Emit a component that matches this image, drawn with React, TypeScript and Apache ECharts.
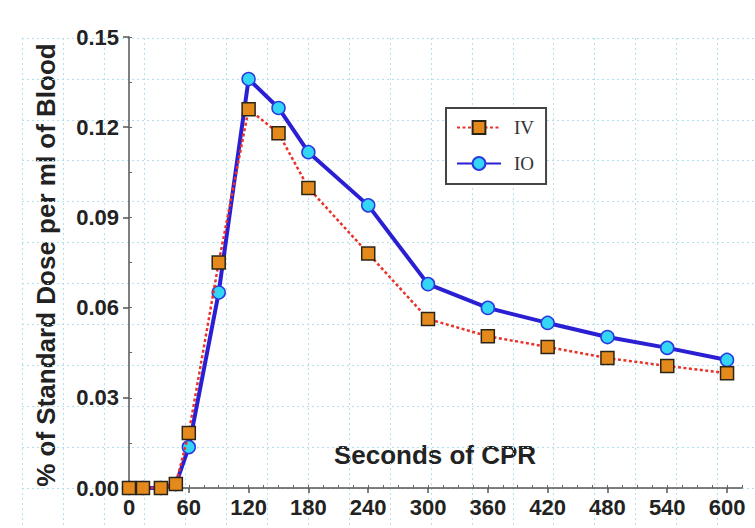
import React, { useEffect, useRef } from "react";
import * as echarts from "echarts";

// Seconds of CPR (x) and % of standard dose per ml of blood (y)
const timesIV = [0, 14, 32, 47, 60, 90, 120, 150, 180, 240, 300, 360, 420, 480, 540, 600];
const valuesIV = [0, 0, 0, 0.0013, 0.0183, 0.075, 0.126, 0.118, 0.0998, 0.078, 0.0562, 0.0505, 0.0469, 0.0432, 0.0406, 0.0382];
const timesIO = [0, 14, 32, 47, 60, 90, 120, 150, 180, 240, 300, 360, 420, 480, 540, 600];
const valuesIO = [0, 0, 0, 0.0013, 0.0136, 0.065, 0.136, 0.1264, 0.1117, 0.094, 0.0678, 0.0599, 0.0549, 0.0502, 0.0466, 0.0426];

const seriesNames = ["IV", "IO"];
const xAxisTitle = "Seconds of CPR";
const yAxisTitle = "% of Standard Dose per ml of Blood";

export default function App() {
  const ref = useRef<HTMLDivElement>(null);

  useEffect(() => {
    document.body.style.margin = "0";
    const chart = echarts.init(ref.current!, null, { renderer: "svg" });
    const bgLine = { show: true, lineStyle: { color: "#b2e0ec", width: 1, type: [2, 3] as any } };
    const labelFont = { fontFamily: "Liberation Sans", fontWeight: "bold" as const, fontSize: 22, color: "#222" };
    chart.setOption({
      animation: false,
      backgroundColor: "#fff",
      grid: [
        { left: 129, right: 13, top: 37, bottom: 40 },
        { left: 22, right: 0, top: 38, bottom: 0, z: 0 },
      ],
      xAxis: [
        {
          type: "value", gridIndex: 0, min: 0, max: 615, interval: 60,
          axisLine: { show: true, lineStyle: { color: "#555", width: 1.5 } },
          axisTick: { show: true, length: 5, lineStyle: { color: "#555", width: 1.5 } },
          axisLabel: { ...labelFont, margin: 8, showMaxLabel: false },
          splitLine: { show: false },
        },
        {
          type: "value", gridIndex: 0, min: 0, max: 615, interval: 15,
          axisLine: { show: false },
          axisTick: { show: true, length: 3, lineStyle: { color: "#666", width: 1 } },
          axisLabel: { show: false },
          splitLine: { show: false },
        },
        {
          type: "value", gridIndex: 1, min: 0, max: 733 / 40.9, interval: 1,
          axisLine: { show: false }, axisTick: { show: false }, axisLabel: { show: false },
          splitLine: bgLine,
        },
      ],
      yAxis: [
        {
          type: "value", gridIndex: 0, min: 0, max: 0.15, interval: 0.03,
          axisLine: { show: true, lineStyle: { color: "#555", width: 1.5 } },
          axisTick: { show: true, length: 6, lineStyle: { color: "#555", width: 1.5 } },
          axisLabel: { ...labelFont, margin: 10, formatter: (v: number) => v.toFixed(2) },
          splitLine: { show: false },
        },
        {
          type: "value", gridIndex: 0, min: 0, max: 0.15, interval: 0.015,
          axisLine: { show: false },
          axisTick: { show: true, length: 3, lineStyle: { color: "#666", width: 1 } },
          axisLabel: { show: false },
          splitLine: { show: false },
        },
        {
          type: "value", gridIndex: 1, inverse: true, min: 0, max: 490 / 40.9, interval: 1,
          axisLine: { show: false }, axisTick: { show: false }, axisLabel: { show: false },
          splitLine: bgLine,
        },
      ],
      legend: {
        data: ["IV", "IO"],
        orient: "vertical",
        left: 446,
        top: 108,
        itemWidth: 44,
        itemHeight: 16,
        itemGap: 17,
        padding: [10, 12, 11, 10],
        borderColor: "#444",
        borderWidth: 2,
        borderRadius: 0,
        backgroundColor: "#fff",
        textStyle: { fontFamily: "Liberation Serif", fontSize: 19, color: "#333", padding: [0, 0, 0, 8] },
      },
      graphic: [
        {
          type: "text", x: 46, y: 265, rotation: Math.PI / 2,
          style: {
            text: yAxisTitle, textAlign: "center", textVerticalAlign: "middle",
            fontFamily: "Liberation Sans", fontWeight: "bold", fontSize: 26, fill: "#222",
          },
        },
        {
          type: "text", x: 435, y: 455,
          style: {
            text: xAxisTitle, textAlign: "center", textVerticalAlign: "middle",
            fontFamily: "Liberation Sans", fontWeight: "bold", fontSize: 26, fill: "#222",
          },
        },
      ],
      series: [
        {
          name: seriesNames[1],
          type: "line",
          xAxisIndex: 0, yAxisIndex: 0,
          data: timesIO.map((t, i) => [t, valuesIO[i]]),
          symbol: "circle",
          symbolSize: 13,
          lineStyle: { color: "#2a1fd2", width: 4, type: "solid" },
          itemStyle: { color: "#33d6f5", borderColor: "#2a3ae0", borderWidth: 1.5 },
          z: 3,
        },
        {
          name: seriesNames[0],
          type: "line",
          xAxisIndex: 0, yAxisIndex: 0,
          data: timesIV.map((t, i) => [t, valuesIV[i]]),
          symbol: "rect",
          symbolSize: 13,
          lineStyle: { color: "#e8322a", width: 2.5, type: [3, 2.5] as any },
          itemStyle: { color: "#e48a1c", borderColor: "#2a2418", borderWidth: 1.5 },
          z: 4,
        },
      ],
    });
    return () => chart.dispose();
  }, []);

  return <div ref={ref} style={{ width: 755, height: 528 }} />;
}
